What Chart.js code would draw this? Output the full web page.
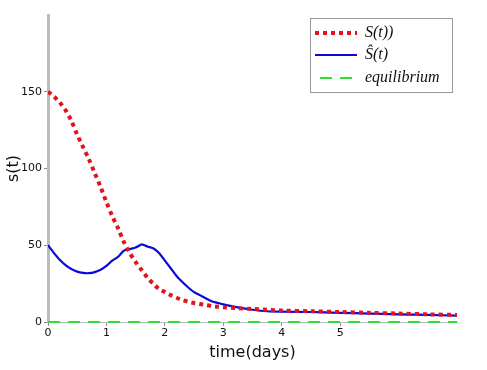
<!DOCTYPE html>
<html><head><meta charset="utf-8">
<script src="https://cdn.jsdelivr.net/npm/chart.js@4/dist/chart.umd.min.js"></script>
<style>html,body{margin:0;padding:0;background:#fff}#wrap{width:487px;height:370px}</style>
</head><body><div id="wrap"><canvas id="c" width="487" height="370"></canvas></div>
<script>
const tS = [0,0.1,0.2,0.3,0.4,0.5,0.6,0.7,0.8,0.9,1.0,1.1,1.2,1.3,1.4,1.5,1.6,1.7,1.8,1.9,2.0,2.1,2.2,2.3,2.4,2.5,2.6,2.7,2.8,2.9,3.0,3.25,3.5,3.75,4.0,4.5,5.0,5.5,6.0,6.5,7.0];
const sValues = [150,147,143,138,131,122,114,106,97,88,78,69,61,52,45,39,34,29,25,21.5,19.5,17.5,15.8,14.3,13.2,12.4,11.7,11,10.4,10,9.6,9,8.5,8,7.5,7,6.5,6,5.5,5,4.6];
const tH = [0,0.1,0.2,0.3,0.4,0.5,0.6,0.7,0.8,0.9,1.0,1.1,1.2,1.3,1.4,1.5,1.55,1.6,1.65,1.7,1.8,1.9,2.0,2.1,2.2,2.3,2.4,2.5,2.6,2.7,2.8,2.9,3.0,3.25,3.5,3.75,4.0,4.5,5.0,5.5,6.0,6.5,7.0];
const hatValues = [50,45,40.5,37,34.5,32.8,32,31.8,32.5,34,36.5,40,42.5,46.5,47.5,48.5,49.5,50.5,50,49.2,48,45,40,35,30,26,22.5,19.5,17.5,15.5,13.5,12.5,11.5,9.5,8,7,6.7,6.5,6,5.5,5,4.6,4.2];
const tEq = [0,7];
const eqValues = [0,0];
const xTicks = [0,1,2,3,4,5];
const yTicks = [0,50,100,150];
const labels = ["S(t))","Ŝ(t)","equilibrium"];

const pts = (xs, ys) => xs.map((x,i)=>({x:x,y:ys[i]}));

const legendPlugin = {
  id:'customLegend',
  afterDraw(chart){
    const ctx = chart.ctx;
    const x0=310, y0=18, w=142, h=74;
    ctx.save();
    ctx.fillStyle='#fff';
    ctx.fillRect(x0,y0,w,h);
    ctx.strokeStyle='#999'; ctx.lineWidth=1;
    ctx.strokeRect(x0+0.5,y0+0.5,w,h);
    const rows=[y0+15,y0+37,y0+60];
    chart.data.datasets.forEach((ds,i)=>{
      ctx.beginPath();
      ctx.strokeStyle=ds.borderColor;
      ctx.lineWidth=ds.borderWidth;
      ctx.setLineDash(ds.borderDash||[]);
      ctx.moveTo(i===2?x0+10:x0+5,rows[i]);ctx.lineTo(x0+47,rows[i]);
      ctx.stroke();
      ctx.setLineDash([]);
      ctx.fillStyle='#111';
      ctx.font='italic 16px "Liberation Serif", "DejaVu Serif", serif';
      ctx.textBaseline='middle';
      ctx.fillText(labels[i], x0+55, rows[i]);
    });
    ctx.restore();
  }
};

new Chart(document.getElementById('c'),{
  type:'line',
  data:{datasets:[
    {data:pts(tS,sValues),borderColor:'#e3121c',borderWidth:4,borderDash:[4,4],pointRadius:0,tension:0.3,fill:false},
    {data:pts(tH,hatValues),borderColor:'#0a0ad8',borderWidth:2.2,pointRadius:0,tension:0.3,fill:false},
    {data:pts(tEq,eqValues),borderColor:'#33dd33',borderWidth:2,borderDash:[12,8],pointRadius:0,fill:false,clip:false}
  ]},
  options:{
    responsive:false,animation:false,
    layout:{padding:{top:15,right:30,left:0,bottom:0}},
    plugins:{legend:{display:false},tooltip:{enabled:false}},
    scales:{
      x:{type:'linear',min:0,max:7,
        afterBuildTicks:(s)=>{s.ticks=xTicks.map(v=>({value:v}));},
        afterFit:(s)=>{s.height=48;},
        border:{color:'#bbb',width:1},
        grid:{drawOnChartArea:false,tickLength:4,color:'#888'},
        ticks:{color:'#111',font:{family:'"DejaVu Sans", sans-serif',size:11},padding:1,maxRotation:0},
        title:{display:true,text:'time(days)',color:'#111',font:{family:'"DejaVu Sans", sans-serif',size:16},padding:{top:0,bottom:8}}
      },
      y:{type:'linear',min:0,max:200,
        afterBuildTicks:(s)=>{s.ticks=yTicks.map(v=>({value:v}));},
        afterFit:(s)=>{s.width=48;},
        border:{color:'#bbb',width:3},
        grid:{drawOnChartArea:false,tickLength:4,color:'#888'},
        ticks:{color:'#111',font:{family:'"DejaVu Sans", sans-serif',size:11},padding:2},
        title:{display:true,text:'s(t)',color:'#111',font:{family:'"DejaVu Sans", sans-serif',size:16},padding:{top:4,bottom:2}}
      }
    }
  },
  plugins:[legendPlugin]
});
</script></body></html>
